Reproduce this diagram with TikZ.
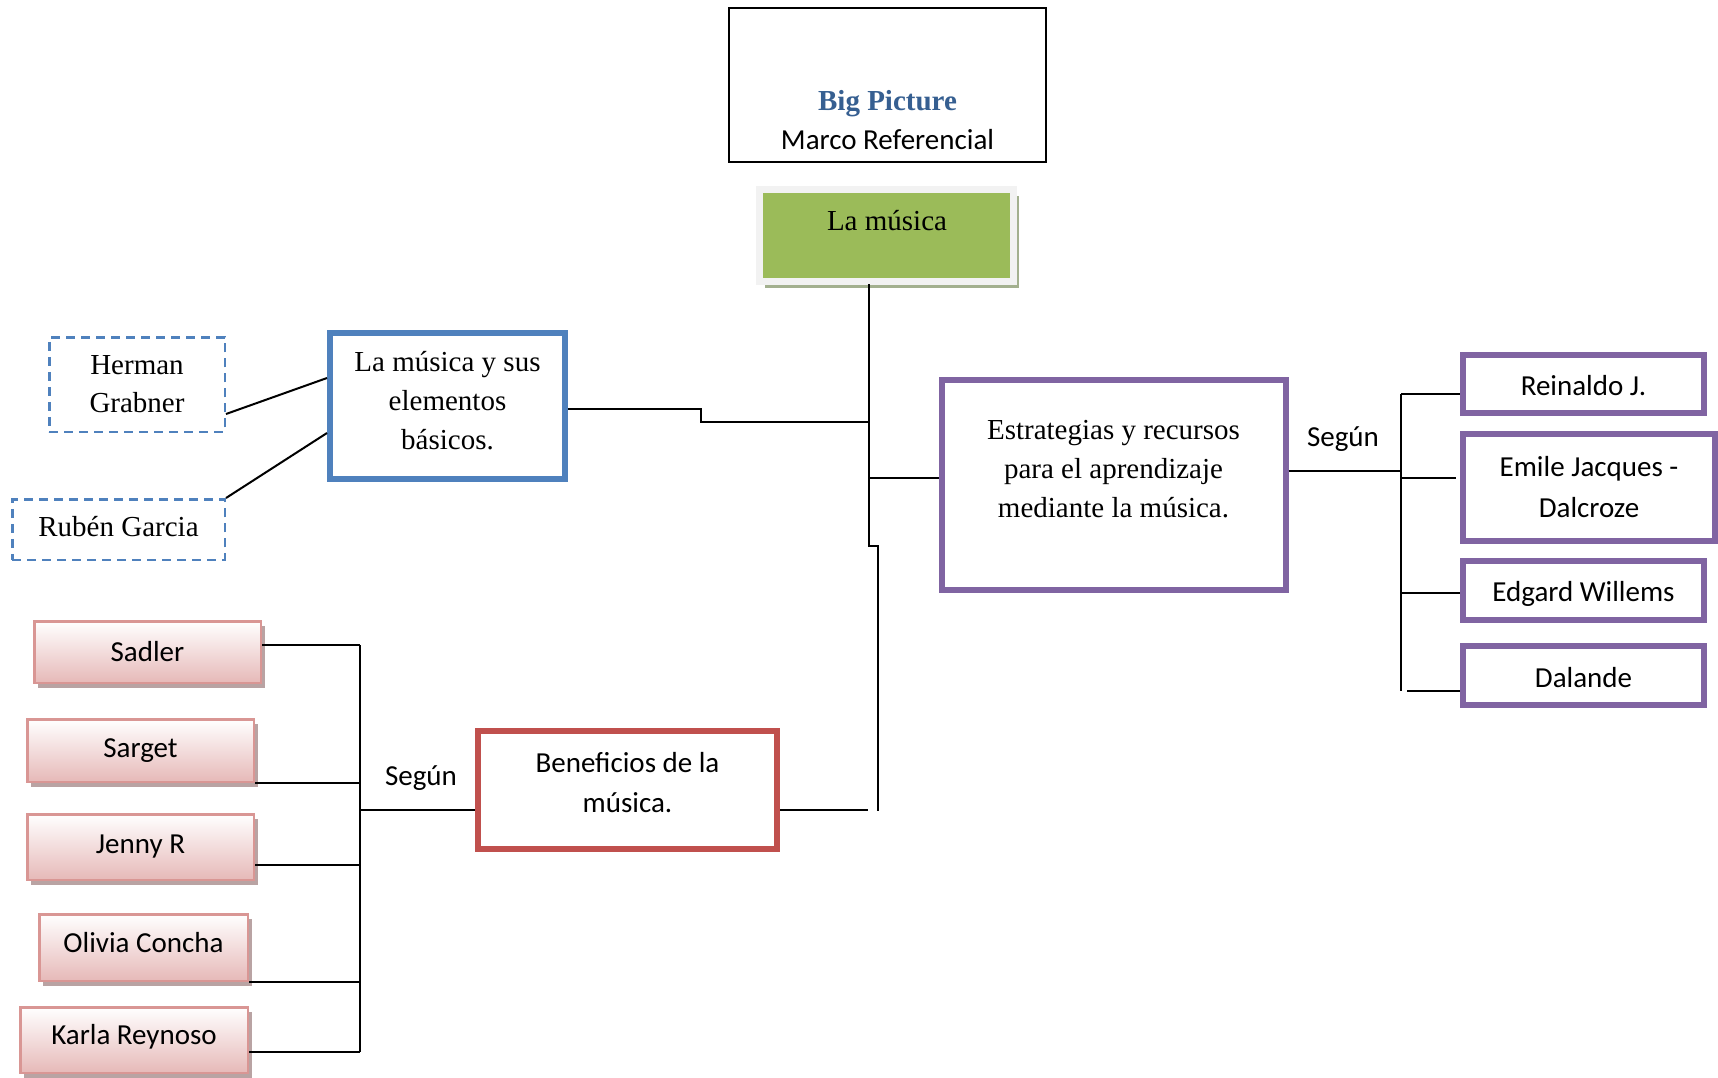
\documentclass[tikz,border=0pt]{standalone}
\usepackage{fontspec}
\setmainfont{Liberation Serif}
\newfontfamily\calibri{Carlito}
\usetikzlibrary{shadows}
\definecolor{bluebox}{HTML}{4F81BD}
\definecolor{purplebox}{HTML}{8064A2}
\definecolor{redbox}{HTML}{C0504D}
\definecolor{greenbox}{HTML}{9BBB59}
\definecolor{greenframe}{HTML}{F2F2F2}
\definecolor{greenshadow}{HTML}{A3B08F}
\definecolor{pinkborder}{HTML}{D99694}
\definecolor{pinkfill}{HTML}{E6B9B8}
\definecolor{pinkshadow}{HTML}{B9A3A3}
\definecolor{headblue}{HTML}{365F91}
\begin{document}
\begin{tikzpicture}[x=1pt,y=-1pt,
  conn/.style={draw=black, line width=2pt},
  serif/.style={font=\fontsize{29}{38}\selectfont, align=center},
  sans/.style={font=\calibri\fontsize{29}{38}\selectfont, align=center},
  mainbox/.style={rectangle, draw=#1, line width=6pt, fill=white, inner sep=0pt},
  pinkbox/.style={rectangle, draw=pinkborder, line width=2.5pt, top color=white, bottom color=pinkfill,
    drop shadow={shadow xshift=4pt, shadow yshift=-5pt, fill=pinkshadow, opacity=1},
    inner sep=0pt, sans},
  dashbox/.style={rectangle, draw=bluebox, dash pattern=on 9pt off 6pt, line width=2.5pt, inner sep=0pt, serif},
]
\useasboundingbox (0,0) rectangle (1718,1077);

% top boxes
\node[rectangle, draw=black, line width=2pt, minimum width=317pt, minimum height=154pt, inner sep=0pt] (bigpic) at (887.5,85) {};
\node[align=center, font=\fontsize{29}{39}\selectfont] (bigpictext) at (887.5,120)
  {\textcolor{headblue}{\bfseries Big Picture}\\{\calibri Marco Referencial}};

\node[rectangle, draw=greenframe, line width=7pt, fill=greenbox, minimum width=254pt, minimum height=92pt, inner sep=0pt,
  drop shadow={shadow xshift=5pt, shadow yshift=-6pt, fill=greenshadow, opacity=1}] (musica) at (886.5,235.5) {};
\node[serif] (musicatext) at (887,221) {La música};

% left blue group
\node[mainbox=bluebox, minimum width=235pt, minimum height=146pt] (blue) at (447.5,406) {};
\node[serif, font=\fontsize{29}{39}\selectfont] (bluetext) at (447.5,401) {La música y sus\\elementos\\básicos.};
\node[dashbox, minimum width=175.5pt, minimum height=94.5pt] (herman) at (137,384.5) {Herman\\Grabner};
\node[dashbox, minimum width=212.5pt, minimum height=60.5pt] (ruben) at (118.5,529.5) {};
\node[serif] (rubentext) at (118.5,527) {Rubén Garcia};

% purple main
\node[mainbox=purplebox, minimum width=344pt, minimum height=210pt] (estr) at (1113.5,484.5) {};
\node[serif, font=\fontsize{29}{39}\selectfont] (estrtext) at (1113.5,469)
  {Estrategias y recursos\\para el aprendizaje\\mediante la música.};

% right purple boxes
\node[mainbox=purplebox, minimum width=241pt, minimum height=58pt] (reinaldo) at (1583.5,384) {};
\node[sans] (reinaldotext) at (1583.5,386) {Reinaldo J.};
\node[mainbox=purplebox, sans, minimum width=252pt, minimum height=107pt, font=\calibri\fontsize{29}{41}\selectfont] (emile) at (1589,487.5) {Emile Jacques -\\Dalcroze};
\node[mainbox=purplebox, minimum width=241pt, minimum height=59pt] (edgard) at (1583.5,590.5) {};
\node[sans] (edgardtext) at (1583.5,594) {Edgard Willems};
\node[mainbox=purplebox, minimum width=241pt, minimum height=59pt] (dalande) at (1583.5,675.5) {};
\node[sans] (dalandetext) at (1583.5,678) {Dalande};

% red box
\node[mainbox=redbox, minimum width=299pt, minimum height=118pt] (benef) at (627.5,790) {};
\node[sans, font=\calibri\fontsize{29}{40}\selectfont] (beneftext) at (627.5,783) {Beneficios de la\\música.};

% pink boxes
\node[pinkbox, minimum width=226.5pt, minimum height=61.5pt] (sadler) at (147.5,652) {Sadler};
\node[pinkbox, minimum width=226.5pt, minimum height=62.5pt] (sarget) at (140.5,750.5) {Sarget};
\node[pinkbox, minimum width=226.5pt, minimum height=65.5pt] (jenny) at (140.5,847) {Jenny R};
\node[pinkbox, minimum width=208.5pt, minimum height=66.5pt] (olivia) at (143.5,947.5) {};
\node[sans] (oliviatext) at (143.5,943) {Olivia Concha};
\node[pinkbox, minimum width=227.5pt, minimum height=65.5pt] (karla) at (134,1040) {};
\node[sans] (karlatext) at (134,1037) {Karla Reynoso};

% labels
\node[sans] (segunright) at (1343,439) {Según};
\node[sans] (segunleft) at (421,778) {Según};

% junction coordinates
\coordinate (trunktop) at (869,284);
\coordinate (trunkblue) at (869,422);
\coordinate (trunkestr) at (869,478);
\coordinate (trunkjog) at (869,546);
\coordinate (trunkbot) at (878,811);
\coordinate (trunkbenef) at (868,810);
\coordinate (rb) at (1401,471);
\coordinate (rbtop) at (1401,394);
\coordinate (rbbot) at (1401,691);
\coordinate (rbemile) at (1401,478);
\coordinate (rbedgard) at (1401,593);
\coordinate (rbdal) at (1407,691);
\coordinate (lbtop) at (360,645);
\coordinate (lbbot) at (360,1052);
\coordinate (lbjenny) at (360,865);
\coordinate (lbbenef) at (360,810);

% trunk
\draw[conn] (trunktop) -- (trunkjog) -- (trunkjog -| trunkbot) -- (trunkbot);
\draw[conn] ([yshift=-3pt]blue.east) -- ++(133,0) -- (trunkblue -| 701,0) -- (trunkblue);
\draw[conn] (trunkestr) -- (estr.west |- trunkestr);
\draw[conn] (benef.east |- trunkbenef) -- (trunkbenef);

% blue side lines
\draw[conn] ([yshift=-29.5pt]herman.east) -- ([yshift=28pt]blue.west);
\draw[conn] (ruben.north east) -- ([yshift=-27pt]blue.west);

% right bracket
\draw[conn] (estr.east |- rb) -- (rb);
\draw[conn] (rbtop) -- (rbbot);
\draw[conn] (rbtop) -- (reinaldo.west |- rbtop);
\draw[conn] (rbemile) -- ([xshift=-4pt]emile.west |- rbemile);
\draw[conn] (rbedgard) -- (edgard.west |- rbedgard);
\draw[conn] (rbdal) -- (dalande.west |- rbdal);

% left bracket
\draw[conn] (lbtop) -- (lbbot);
\draw[conn] (sadler.east |- lbtop) -- (lbtop);
\draw[conn] (sarget.south east) -- (sarget.south east -| lbtop);
\draw[conn] (jenny.east |- lbjenny) -- (lbjenny);
\draw[conn] (olivia.south east) -- (olivia.south east -| lbtop);
\draw[conn] (karla.east |- lbbot) -- (lbbot);
\draw[conn] (lbbenef) -- (benef.west |- lbbenef);
\end{tikzpicture}
\end{document}
